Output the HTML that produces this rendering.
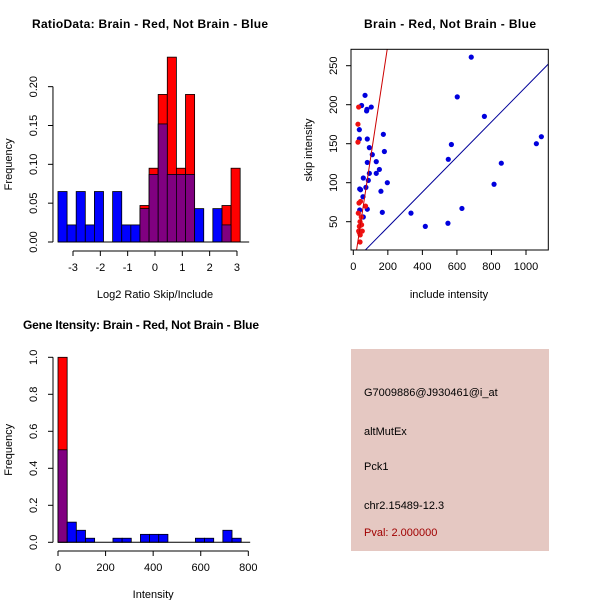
<!DOCTYPE html>
<html><head><meta charset="utf-8"><style>
body{margin:0;background:#fff}
svg{display:block;font-family:"Liberation Sans",sans-serif}
</style></head><body>
<svg id="c" width="600" height="600" xmlns="http://www.w3.org/2000/svg">
<rect width="600" height="600" fill="#fff"/>
<text x="150" y="28" text-anchor="middle" font-size="12" font-weight="bold" textLength="236">RatioData: Brain - Red, Not Brain - Blue</text>
<text x="450" y="28" text-anchor="middle" font-size="12" font-weight="bold" textLength="172">Brain - Red, Not Brain - Blue</text>
<text x="141" y="329" text-anchor="middle" font-size="12" font-weight="bold" textLength="236">Gene Itensity: Brain - Red, Not Brain - Blue</text>
<g id="p1"></g>
<g id="p2"></g>
<g id="p3"></g>
<g>
<rect x="351" y="349" width="198" height="202" fill="#e5c8c2"/>
<text x="364" y="396" font-size="11">G7009886@J930461@i_at</text>
<text x="364" y="435" font-size="11">altMutEx</text>
<text x="364" y="470" font-size="11">Pck1</text>
<text x="364" y="509" font-size="11">chr2.15489-12.3</text>
<text x="364" y="536" font-size="11" fill="#a00000">Pval: 2.000000</text>
</g>
</svg>
<script>
// Ratio histogram data (20 bins, width 1/3 starting -3.55)
const ratioBinStart = -3.55, ratioBinWidth = 1/3;
const ratioBlue = [0.065,0.022,0.065,0.022,0.065,0,0.065,0.022,0.022,0.043,0.087,0.152,0.087,0.087,0.087,0.043,0,0.043,0.022,0];
const ratioRed  = [0,0,0,0,0,0,0,0,0,0.047,0.095,0.19,0.238,0.095,0.19,0,0,0,0.047,0.095];
const ratioXTicks = [-3,-2,-1,0,1,2,3];
const ratioYTicks = ["0.00","0.05","0.10","0.15","0.20"];
// Intensity histogram data (20 bins width 38.5 from 0)
const intBinStart = 0, intBinWidth = 38.5;
const intBlue = [0.5,0.109,0.065,0.022,0,0,0.022,0.022,0,0.043,0.043,0.043,0,0,0,0.022,0.022,0,0.065,0.022];
const intRed  = [1.0,0,0,0,0,0,0,0,0,0,0,0,0,0,0,0,0,0,0,0];
const intXTicks = [0,200,400,600,800];
const intYTicks = ["0.0","0.2","0.4","0.6","0.8","1.0"];
// Scatter data
const blueX = [683,602,759,68,48,104,79,77,35,81,174,93,180,110,133,81,151,133,93,37,42,87,73,58,197,160,56,37,81,58,168,334,417,548,629,550,568,1060,1089,857,815,35];
const blueY = [261,210,185,212,199,197,194,192,168,156,162,145,140,136,127,126,117,112,112,92,91,103,94,106,100,89,82,65,66,56,62,61,44,48,67,130,149,150,159,125,98,156];
const redX = [31,27,27,33,42,29,71,39,35,48,31,52,40,39,35,46];
const redY = [197,175,152,74,76,61,70,50,44,46,38,38,33,24,36,56];
const blueFit = [0.225,-2];
const redFit = [1.45,-13.6];
const scXTicks = [0,200,400,600,800,1000];
const scYTicks = [50,100,150,200,250];

const NS="http://www.w3.org/2000/svg";
function mk(p,tag,attrs){const e=document.createElementNS(NS,tag);for(const k in attrs)e.setAttribute(k,attrs[k]);p.appendChild(e);return e;}

function hist(g,binStart,binW,red,blue,xs,ys,yVals,xTicks,yTicks,axisY,xlab,xlabY){
  red.forEach((v,i)=>{ if(v>0){ const r=mk(g,'rect',{x:xs(binStart+i*binW),y:ys(v),width:xs(binStart+(i+1)*binW)-xs(binStart+i*binW),height:ys(0)-ys(v),fill:'#ff0000',stroke:'#000','stroke-width':0.8});
    
    }});
  blue.forEach((v,i)=>{ if(v>0){ const both=red[i]>0; const r=mk(g,'rect',{x:xs(binStart+i*binW),y:ys(v),width:xs(binStart+(i+1)*binW)-xs(binStart+i*binW),height:ys(0)-ys(v),fill:both?'#800080':'#0000ff',stroke:'#000','stroke-width':0.8});
    
    }});
  mk(g,'line',{x1:xs(binStart),x2:xs(binStart+red.length*binW)+9,y1:ys(0),y2:ys(0),stroke:'#000'});
  mk(g,'line',{x1:xs(xTicks[0]),x2:xs(xTicks[xTicks.length-1]),y1:axisY,y2:axisY,stroke:'#000'});
  xTicks.forEach(t=>{mk(g,'line',{x1:xs(t),x2:xs(t),y1:axisY,y2:axisY+5,stroke:'#000'});
    const tx=mk(g,'text',{x:xs(t),y:axisY+20,'text-anchor':'middle','font-size':11});tx.textContent=t;
    
    });
  const ax=xs(binStart)-5;
  mk(g,'line',{x1:ax,x2:ax,y1:ys(yVals[0]),y2:ys(yVals[yVals.length-1]),stroke:'#000'});
  yTicks.forEach((t,i)=>{const y=ys(yVals[i]);mk(g,'line',{x1:ax,x2:ax-5,y1:y,y2:y,stroke:'#000'});
    const tx=mk(g,'text',{x:ax-16,y:y,'text-anchor':'middle','font-size':11,transform:`rotate(-90 ${ax-16} ${y})`});tx.textContent=t;
    
    });
  const xl=mk(g,'text',{x:(xs(xTicks[0])+xs(xTicks[xTicks.length-1]))/2,y:xlabY,'text-anchor':'middle','font-size':11});xl.textContent=xlab;
  
  
  const cy=(ys(yVals[0])+ys(yVals[yVals.length-1]))/2;
  const yl=mk(g,'text',{x:12,y:cy,'text-anchor':'middle','font-size':11,transform:`rotate(-90 12 ${cy})`});yl.textContent='Frequency';
  
  
}
{
 const xs=v=>73+(v+3)*27.33, ys=v=>242-v*776.7;
 hist(document.getElementById('p1'),ratioBinStart,ratioBinWidth,ratioRed,ratioBlue,xs,ys,ratioYTicks.map(Number),ratioXTicks,ratioYTicks,251,'Log2 Ratio Skip/Include',298);
}
{
 const xs=v=>58+v*0.2379, ys=v=>542.3-v*185;
 hist(document.getElementById('p3'),intBinStart,intBinWidth,intRed,intBlue,xs,ys,intYTicks.map(Number),intXTicks,intYTicks,551,'Intensity',598);
}
{
 const g=document.getElementById('p2');
 const xs=v=>353.3+v*0.1727, ys=v=>221.7-(v-50)*0.78;
 const L=351,R=548.3,T=49.3,B=250;
 const cp=mk(g,'clipPath',{id:'sc'});mk(cp,'rect',{x:L,y:T,width:R-L,height:B-T});
 blueX.forEach((x,i)=>{const c=mk(g,'circle',{cx:xs(x),cy:ys(blueY[i]),r:2.6,fill:'#0000dd'});
  
  });
 redX.forEach((x,i)=>{const c=mk(g,'circle',{cx:xs(x),cy:ys(redY[i]),r:2.6,fill:'#ee1111'});
  
  });
 const x0=-100,x1=1300;
 const bl=mk(g,'line',{x1:xs(x0),y1:ys(blueFit[0]*x0+blueFit[1]),x2:xs(x1),y2:ys(blueFit[0]*x1+blueFit[1]),stroke:'#000099','clip-path':'url(#sc)'});
 
 
 const rl=mk(g,'line',{x1:xs(0),y1:ys(redFit[1]),x2:xs(300),y2:ys(redFit[0]*300+redFit[1]),stroke:'#cc0000','clip-path':'url(#sc)'});
 
 
 mk(g,'rect',{x:L,y:T,width:R-L,height:B-T,fill:'none',stroke:'#000'});
 scXTicks.forEach(t=>{mk(g,'line',{x1:xs(t),x2:xs(t),y1:B,y2:B+5,stroke:'#000'});
  const tx=mk(g,'text',{x:xs(t),y:B+20,'text-anchor':'middle','font-size':11});tx.textContent=t;
  
  });
 scYTicks.forEach(t=>{const y=ys(t);mk(g,'line',{x1:L,x2:L-5,y1:y,y2:y,stroke:'#000'});
  const tx=mk(g,'text',{x:L-14,y:y,'text-anchor':'middle','font-size':11,transform:`rotate(-90 ${L-14} ${y})`});tx.textContent=t;
  
  });
 const xl=mk(g,'text',{x:449,y:298,'text-anchor':'middle','font-size':11});xl.textContent='include intensity';
 
 
 const yl=mk(g,'text',{x:312,y:150,'text-anchor':'middle','font-size':11,transform:'rotate(-90 312 150)'});yl.textContent='skip intensity';
 
 
}
</script>
</body></html>
